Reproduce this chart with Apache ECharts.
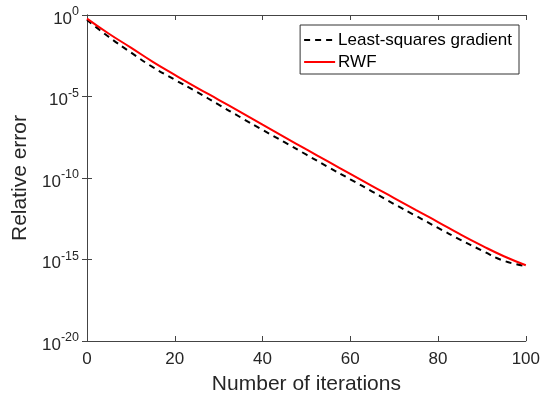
<!DOCTYPE html>
<html lang="en">
<head>
    <meta charset="UTF-8" />
    <title>Relative error vs iterations</title>
    <script src="https://cdn.jsdelivr.net/npm/echarts@6/dist/echarts.min.js"></script>
</head>
<body style="margin:0">
<div id="main" style="width: 543px;height:400px;"></div>
<script type="text/javascript">
    var iters = [0, 5, 10, 15, 20, 25, 30, 35, 40, 45, 50, 55, 60, 65, 70, 75, 80, 85, 90, 95, 100];
    var lsgExp = [-0.3, -1.35, -2.3, -3.2, -3.97, -4.72, -5.5, -6.28, -7.05, -7.8, -8.57,
                  -9.33, -10.08, -10.83, -11.6, -12.33, -13.06, -13.78, -14.45, -15.08, -15.4];
    var rwfExp = [-0.22, -1.15, -2.0, -2.87, -3.67, -4.45, -5.2, -5.96, -6.73, -7.49, -8.25,
                  -9.0, -9.75, -10.5, -11.23, -11.97, -12.7, -13.45, -14.15, -14.8, -15.35];

    function pairs(exps) {
        var out = [];
        for (var i = 0; i < iters.length; i++) {
            out.push([iters[i], Math.pow(10, exps[i])]);
        }
        return out;
    }

    var axisColor = '#444';
    var textColor = '#262626';
    var font = 'Liberation Sans, Arial, sans-serif';

    var myChart = echarts.init(document.getElementById('main'));
    var option = {
        animation: false,
        textStyle: { fontFamily: font },
        grid: { left: 87, right: 14, top: 15, bottom: 57 },
        legend: {
            orient: 'vertical',
            right: 24,
            top: 25,
            itemWidth: 31,
            itemHeight: 10,
            itemGap: 2,
            padding: [5, 7, 2, 3],
            borderColor: '#333',
            borderWidth: 1,
            borderRadius: 0,
            backgroundColor: '#fff',
            itemStyle: { opacity: 0 },
            textStyle: { fontSize: 17, lineHeight: 20, color: '#000', padding: [0, 0, 0, -2] },
            data: ['Least-squares gradient', 'RWF']
        },
        xAxis: [{
            type: 'value',
            min: 0, max: 100, interval: 20,
            name: 'Number of iterations',
            nameLocation: 'middle',
            nameGap: 33,
            nameTextStyle: { fontSize: 21, color: textColor },
            axisLine: { lineStyle: { color: axisColor } },
            axisTick: { inside: true, length: 5, lineStyle: { color: axisColor } },
            axisLabel: { fontSize: 17, color: textColor, margin: 10 },
            splitLine: { show: false }
        }, {
            type: 'value', position: 'top',
            min: 0, max: 100, interval: 20,
            axisLine: { show: true, lineStyle: { color: axisColor } },
            axisTick: { inside: true, length: 5, lineStyle: { color: axisColor } },
            axisLabel: { show: false },
            splitLine: { show: false }
        }],
        yAxis: [{
            type: 'log',
            logBase: 10,
            min: 1e-20, max: 1,
            interval: 5,
            name: 'Relative error',
            nameLocation: 'middle',
            nameGap: 54,
            nameTextStyle: { fontSize: 21, color: textColor },
            axisLine: { show: true, lineStyle: { color: axisColor } },
            axisTick: { inside: true, length: 5, lineStyle: { color: axisColor } },
            axisLabel: {
                margin: 8,
                formatter: function (v) {
                    return '{b|10}{s|' + Math.round(Math.log10(v)) + '}';
                },
                rich: {
                    b: { fontSize: 17, color: textColor, padding: [8, 0, 0, 0] },
                    s: { fontSize: 12.5, color: textColor, padding: [0, 0, 6, 0] }
                }
            },
            splitLine: { show: false }
        }, {
            type: 'log',
            logBase: 10,
            min: 1e-20, max: 1,
            interval: 5,
            position: 'right',
            axisLine: { show: true, lineStyle: { color: axisColor } },
            axisTick: { inside: true, length: 5, lineStyle: { color: axisColor } },
            axisLabel: { show: false },
            splitLine: { show: false }
        }],
        series: [
            {
                name: 'Least-squares gradient',
                type: 'line',
                data: pairs(lsgExp),
                smooth: true,
                showSymbol: false,
                symbol: 'none',
                itemStyle: { color: '#000' },
                lineStyle: { color: '#000', width: 2, type: [6, 5] }
            },
            {
                name: 'RWF',
                type: 'line',
                data: pairs(rwfExp),
                smooth: true,
                showSymbol: false,
                symbol: 'none',
                itemStyle: { color: '#ff0000' },
                lineStyle: { color: '#ff0000', width: 2 }
            }
        ]
    };
    myChart.setOption(option);
</script>
</body>
</html>
